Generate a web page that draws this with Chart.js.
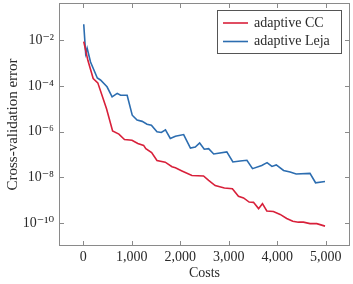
<!DOCTYPE html>
<html>
<head>
<meta charset="utf-8">
<script src="https://cdn.jsdelivr.net/npm/chart.js@4/dist/chart.umd.min.js"></script>
<style>
  html, body { margin: 0; padding: 0; background: #fff; }
  #wrap { width: 353px; height: 284px; }
</style>
</head>
<body>
<div id="wrap"><canvas id="cv"></canvas></div>
<script>
// data
const ccCosts = [10, 95, 205, 300, 480, 605, 735, 850, 1005, 1125, 1245, 1290, 1410, 1520, 1690, 1830, 1900, 2035, 2240, 2480, 2585, 2720, 2910, 3075, 3200, 3305, 3420, 3510, 3615, 3695, 3785, 3920, 4060, 4195, 4320, 4435, 4540, 4675, 4815, 4985];
const ccErrors = [8.5e-3, 1.3e-3, 2.1e-4, 1.35e-4, 1.0e-5, 1.07e-6, 7.8e-7, 4.5e-7, 4.2e-7, 3.0e-7, 2.5e-7, 1.8e-7, 1.2e-7, 5.5e-8, 4.6e-8, 2.9e-8, 2.6e-8, 1.9e-8, 1.2e-8, 1.15e-8, 7.4e-9, 4.4e-9, 3.4e-9, 3.2e-9, 1.5e-9, 1.26e-9, 8.3e-10, 8.1e-10, 4.3e-10, 7.1e-10, 3.4e-10, 3.2e-10, 2.4e-10, 1.6e-10, 1.2e-10, 1.1e-10, 1.1e-10, 9.5e-11, 9.5e-11, 7.4e-11];

const lejaCosts = [10, 50, 80, 150, 290, 355, 490, 595, 700, 770, 905, 1010, 1110, 1215, 1315, 1405, 1520, 1610, 1695, 1795, 1900, 2070, 2210, 2310, 2400, 2495, 2585, 2690, 2960, 3085, 3235, 3375, 3490, 3680, 3790, 3890, 3980, 4130, 4265, 4390, 4675, 4790, 4985];
const lejaErrors = [4.9e-2, 2.6e-3, 4.4e-3, 1.1e-3, 2.2e-4, 1.8e-4, 9.1e-5, 3.3e-5, 4.7e-5, 3.9e-5, 3.9e-5, 5.2e-6, 3.2e-6, 2.8e-6, 2.1e-6, 1.9e-6, 9.8e-7, 9.1e-7, 1.2e-6, 5.0e-7, 6.3e-7, 7.4e-7, 1.9e-7, 2.1e-7, 3.2e-7, 1.7e-7, 1.8e-7, 1.05e-7, 1.3e-7, 4.7e-8, 5.2e-8, 5.6e-8, 2.4e-8, 3.3e-8, 4.4e-8, 3.0e-8, 3.5e-8, 2.0e-8, 1.7e-8, 1.4e-8, 1.5e-8, 5.8e-9, 6.6e-9];

const seriesNames = ['adaptive CC', 'adaptive Leja'];
const xTicks = [0, 1000, 2000, 3000, 4000, 5000];
const yTicks = [1e-2, 1e-4, 1e-6, 1e-8, 1e-10];
const yTickLabels = ['10⁻²', '10⁻⁴', '10⁻⁶', '10⁻⁸', '10⁻¹⁰'];

const RED = '#d8203a';
const BLUE = '#2c6db0';
const FRAME = '#8a8a8a';
const TEXT = '#2a2a2a';
const FONT = '"Liberation Serif", "DejaVu Serif", serif';

function pts(xs, ys) {
    return xs.map((x, i) => ({ x: x, y: ys[i] }));
}

// axis box, inward ticks and legend, pgfplots style
const framePlugin = {
    id: 'frame',
    afterDraw(chart) {
        const ctx = chart.ctx;
        const a = chart.chartArea;
        const xs = chart.scales.x, ys = chart.scales.y;
        ctx.save();
        ctx.strokeStyle = FRAME;
        ctx.lineWidth = 1;
        ctx.strokeRect(a.left + 0.5, a.top + 0.5, a.right - a.left - 1, a.bottom - a.top - 1);
        ctx.beginPath();
        xTicks.forEach(v => {
            const px = Math.round(xs.getPixelForValue(v)) + 0.5;
            ctx.moveTo(px, a.bottom); ctx.lineTo(px, a.bottom - 5);
            ctx.moveTo(px, a.top); ctx.lineTo(px, a.top + 5);
        });
        yTicks.forEach(v => {
            const py = Math.round(ys.getPixelForValue(v)) + 0.5;
            ctx.moveTo(a.left, py); ctx.lineTo(a.left + 5, py);
            ctx.moveTo(a.right, py); ctx.lineTo(a.right - 5, py);
        });
        ctx.stroke();

        // legend
        const lx = 217, ly = 10, lw = 124, lh = 43;
        ctx.fillStyle = '#fff';
        ctx.fillRect(lx, ly, lw, lh);
        ctx.strokeStyle = '#555';
        ctx.strokeRect(lx + 0.5, ly + 0.5, lw, lh);
        const cols = [RED, BLUE];
        ctx.font = '14px ' + FONT;
        ctx.textBaseline = 'middle';
        seriesNames.forEach((name, i) => {
            const y = ly + 13 + i * 18.5;
            ctx.strokeStyle = cols[i];
            ctx.lineWidth = 1.6;
            ctx.beginPath();
            ctx.moveTo(lx + 6, y); ctx.lineTo(lx + 31, y);
            ctx.stroke();
            ctx.fillStyle = TEXT;
            ctx.fillText(name, lx + 37, y);
        });
        ctx.restore();
    }
};

new Chart(document.getElementById('cv'), {
    type: 'line',
    data: {
        datasets: [
            { label: seriesNames[0], data: pts(ccCosts, ccErrors), borderColor: RED, borderWidth: 1.6, pointRadius: 0, tension: 0, fill: false },
            { label: seriesNames[1], data: pts(lejaCosts, lejaErrors), borderColor: BLUE, borderWidth: 1.6, pointRadius: 0, tension: 0, fill: false }
        ]
    },
    options: {
        responsive: true,
        maintainAspectRatio: false,
        animation: false,
        layout: { padding: { top: 3, right: 3, left: 0, bottom: 0 } },
        plugins: { legend: { display: false }, tooltip: { enabled: false } },
        scales: {
            x: {
                type: 'linear',
                min: -500, max: 5500,
                grid: { display: false, drawTicks: false, tickLength: 0 },
                border: { display: false },
                afterBuildTicks: s => { s.ticks = xTicks.map(v => ({ value: v })); },
                afterFit: s => { s.height = 38; s.paddingLeft = 0; s.paddingRight = 0; },
                ticks: {
                    color: TEXT, padding: 3,
                    font: { family: FONT, size: 14 },
                    maxRotation: 0,
                    callback: v => v.toLocaleString('en-US')
                },
                title: { display: true, text: 'Costs', color: TEXT, font: { family: FONT, size: 14 }, padding: { top: 0, bottom: 2 } }
            },
            y: {
                type: 'logarithmic',
                min: 1e-11, max: Math.pow(10, -0.38),
                grid: { display: false, drawTicks: false, tickLength: 0 },
                border: { display: false },
                afterBuildTicks: s => { s.ticks = yTicks.map(v => ({ value: v })); },
                afterFit: s => { s.width = 59; s.paddingTop = 0; s.paddingBottom = 0; },
                ticks: {
                    color: TEXT, padding: 5,
                    font: { family: FONT, size: 14 },
                    callback: v => yTickLabels[yTicks.findIndex(t => Math.abs(Math.log10(t) - Math.log10(v)) < 1e-6)]
                },
                title: { display: true, text: 'Cross-validation error', color: TEXT, font: { family: FONT, size: 15 }, padding: { top: 4, bottom: 0 } }
            }
        }
    },
    plugins: [framePlugin]
});
</script>
</body>
</html>
